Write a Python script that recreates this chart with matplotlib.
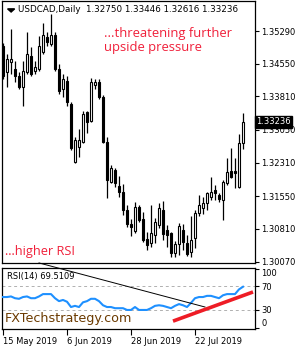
import matplotlib
matplotlib.use("Agg")
import matplotlib.pyplot as plt
from matplotlib.patches import Rectangle, Polygon

# ---- data (USDCAD daily, 15 May 2019 .. 7 Aug 2019) ----
opens = [1.34949, 1.34358, 1.34585, 1.34426, 1.34267, 1.34017, 1.34358, 1.34722, 1.34380, 1.34426,
         1.34812, 1.35154, 1.34994, 1.35199, 1.34426, 1.33971, 1.34153, 1.33630, 1.32334, 1.32675,
         1.32789, 1.33448, 1.33243, 1.34062, 1.34130, 1.33789, 1.32789, 1.31879, 1.32152, 1.31788,
         1.31652, 1.31242, 1.30924, 1.30765, 1.31311, 1.31038, 1.30583, 1.30492, 1.30674, 1.30901,
         1.31242, 1.30788, 1.30719, 1.30265, 1.30469, 1.30788, 1.30492, 1.30287, 1.30606, 1.31174,
         1.31288, 1.31402, 1.31538, 1.31697, 1.31583, 1.31470, 1.31856, 1.32129, 1.32129, 1.31765,
         1.32750]
highs = [1.35017, 1.34767, 1.35335, 1.34608, 1.34358, 1.34608, 1.35267, 1.34926, 1.34608, 1.35176,
         1.35472, 1.35267, 1.35677, 1.35267, 1.34540, 1.34312, 1.34267, 1.33676, 1.32902, 1.33062,
         1.33471, 1.33471, 1.34221, 1.34199, 1.34199, 1.33835, 1.32880, 1.32266, 1.32197, 1.32015,
         1.31834, 1.31356, 1.31038, 1.31424, 1.31356, 1.31197, 1.30742, 1.31356, 1.31060, 1.31402,
         1.31447, 1.30901, 1.30742, 1.30537, 1.30947, 1.30924, 1.30674, 1.31106, 1.31242, 1.31583,
         1.31538, 1.31652, 1.31993, 1.31811, 1.31629, 1.31925, 1.32425, 1.32652, 1.32425, 1.32948,
         1.33446]
lows = [1.34199, 1.34017, 1.34312, 1.34130, 1.33971, 1.33585, 1.34312, 1.34267, 1.34312, 1.34380,
        1.34767, 1.34949, 1.34949, 1.34380, 1.33857, 1.33789, 1.33585, 1.32607, 1.32311, 1.32448,
        1.32766, 1.32993, 1.33221, 1.33971, 1.33744, 1.32766, 1.31515, 1.31856, 1.31765, 1.31538,
        1.31129, 1.30856, 1.30651, 1.30719, 1.30969, 1.30515, 1.30333, 1.30401, 1.30492, 1.30833,
        1.30560, 1.30401, 1.30174, 1.30174, 1.30219, 1.30333, 1.30196, 1.30174, 1.30378, 1.31106,
        1.31151, 1.31242, 1.31470, 1.31470, 1.31424, 1.31015, 1.31811, 1.31970, 1.31743, 1.31743,
        1.32616]
closes = [1.34267, 1.34653, 1.34653, 1.34267, 1.34017, 1.34380, 1.34767, 1.34312, 1.34471, 1.34949,
          1.35199, 1.35040, 1.35199, 1.34426, 1.33926, 1.34199, 1.33676, 1.32652, 1.32834, 1.32834,
          1.33403, 1.33221, 1.34130, 1.34130, 1.33789, 1.32789, 1.31925, 1.32197, 1.31856, 1.31652,
          1.31242, 1.30924, 1.30856, 1.31311, 1.31015, 1.30560, 1.30446, 1.30719, 1.30969, 1.31288,
          1.30697, 1.30674, 1.30265, 1.30469, 1.30878, 1.30515, 1.30242, 1.30560, 1.31174, 1.31356,
          1.31402, 1.31629, 1.31652, 1.31629, 1.31492, 1.31879, 1.32106, 1.31993, 1.32084, 1.32766,
          1.33236]
rsi = [52, 52, 53, 50, 49, 52, 53, 50, 50, 53,
       57, 57, 57, 50, 45, 47, 44, 35, 37, 35,
       43, 45, 49, 49, 45, 38, 35, 35, 33, 33,
       33, 30, 30, 35, 30, 30, 30, 33, 37, 38,
       37, 35, 33, 37, 40, 38, 35, 42, 50, 52,
       52, 54, 54, 52, 50, 55, 57, 57, 57, 65,
       69.5]

price_ticks = [1.35290, 1.34550, 1.33810, 1.33050, 1.32310, 1.31550, 1.30810, 1.30070]
rsi_ticks = [100, 70, 30, 0]
rsi_levels = [70, 30]
date_pos = [0, 16, 32, 48]
date_labels = ["15 May 2019", "6 Jun 2019", "28 Jun 2019", "22 Jul 2019"]
# trend lines on RSI window (bar index, RSI value)
rsi_down_x = [9, 50.5]
rsi_down_y = [110, 35]
rsi_up_x = [42.5, 62.5]
rsi_up_y = [11, 60.6]

header = "USDCAD,Daily  1.32750 1.33446 1.32616 1.33236"
last_price = 1.33236
rsi_label = "RSI(14) 69.5109"

W, H = 300, 350
fig = plt.figure(figsize=(W / 100, H / 100), dpi=100)
fig.patch.set_facecolor("white")


def rect(l, t, r, b):
    return [l / W, 1 - b / H, (r - l) / W, (b - t) / H]


FONT = "DejaVu Sans"
ax = fig.add_axes(rect(2, 1, 255, 263))
ax2 = fig.add_axes(rect(2, 268, 255, 329))

n = len(opens)
for i in range(n):
    o, h, l, c = opens[i], highs[i], lows[i], closes[i]
    ax.plot([i, i], [l, h], color="black", lw=0.9, solid_capstyle="butt", zorder=2)
    bot = min(o, c)
    ht = max(abs(c - o), 0.00008)
    fc = "white" if c >= o else "black"
    ax.add_patch(Rectangle((i - 0.32, bot), 0.64, ht, facecolor=fc,
                           edgecolor="black", lw=0.8, zorder=3))

ax.set_xlim(-0.25, 63)
ax.set_ylim(1.30037, 1.35972)
ax.set_xticks([])
ax.yaxis.tick_right()
ax.set_yticks(price_ticks)
ax.set_yticklabels([f"{v:.5f}" for v in price_ticks], fontsize=6, family=FONT)
ax.tick_params(axis="y", length=3, width=0.8, pad=1.5, colors="black")
for s in ax.spines.values():
    s.set_linewidth(0.9)

ax.text(1.003, last_price, f"{last_price:.5f}", transform=ax.get_yaxis_transform(),
        fontsize=6, family=FONT, color="white", va="center", ha="left", zorder=10,
        bbox=dict(boxstyle="square,pad=0.15", fc="black", ec="black"))

# header
ax.add_patch(Polygon([[0.022, 0.97], [0.05, 0.97], [0.036, 0.958]], closed=True,
                     transform=ax.transAxes, color="black", clip_on=False))
ax.text(0.062, 0.966, header, transform=ax.transAxes, fontsize=6.3, family=FONT,
        va="center", ha="left")

red = "#f0203a"
ax.text(0.405, 0.848, "...threatening further\nupside pressure", transform=ax.transAxes,
        fontsize=9.4, family="Open Sans", color=red, va="center", ha="left", linespacing=1.1)
ax.text(0.012, 0.042, "...higher RSI", transform=ax.transAxes, fontsize=9.2,
        family="Open Sans", color=red, va="center", ha="left")

# RSI panel
x = list(range(n))
ax2.plot(x, rsi, color="#1e90ff", lw=1.5, zorder=3)
for lv in rsi_levels:
    ax2.axhline(lv, color="#b0b0b0", lw=0.7, ls=(0, (3, 3)), zorder=1)
ax2.plot(rsi_down_x, rsi_down_y, color="black", lw=0.7, clip_on=False, zorder=4)
ax2.plot(rsi_up_x, rsi_up_y, color="#ee1c25", lw=2.6, clip_on=False,
         solid_capstyle="butt", zorder=4)
ax2.set_xlim(-0.25, 63)
ax2.set_ylim(-2.4, 101.4)
ax2.yaxis.tick_right()
ax2.set_yticks(rsi_ticks)
ax2.set_yticklabels([str(v) for v in rsi_ticks], fontsize=6, family=FONT)
ylabels = ax2.get_yticklabels()
ylabels[0].set_va("top")
ylabels[-1].set_va("bottom")
ax2.tick_params(axis="y", length=3, width=0.8, pad=1.5)
ax2.set_xticks(date_pos)
ax2.set_xticklabels(date_labels, fontsize=6, family=FONT, ha="left")
ax2.tick_params(axis="x", length=4, width=0.8, pad=1.5)
for s in ax2.spines.values():
    s.set_linewidth(0.9)

ax2.text(0.02, 0.86, rsi_label, transform=ax2.transAxes, fontsize=6, family=FONT,
         va="center", ha="left")
ax2.text(0.012, 0.18, "FXTechstrategy.com", transform=ax2.transAxes, fontsize=9.2,
         family=FONT, color="#6b3a00", va="center", ha="left", zorder=5)

fig.savefig("out.png", dpi=100)
